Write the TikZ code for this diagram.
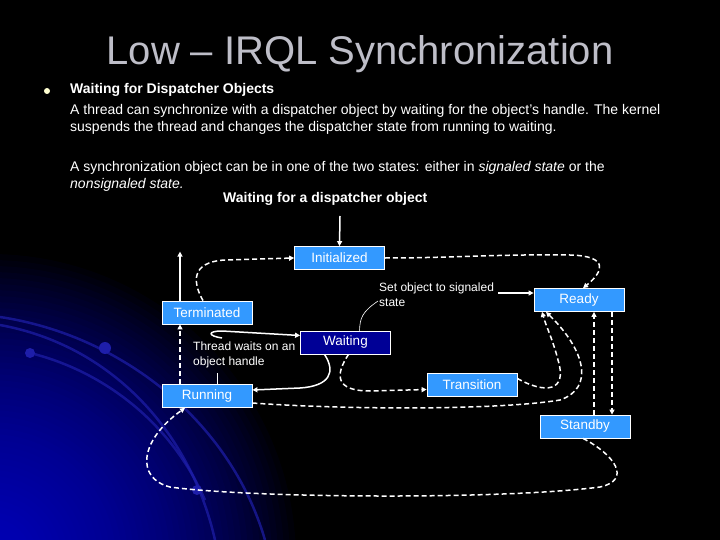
\documentclass[tikz,border=0pt]{standalone}
\usepackage{fontspec}
\setmainfont{Liberation Sans}
\usetikzlibrary{arrows.meta}
\definecolor{boxblue}{RGB}{51,153,255}
\definecolor{navybox}{RGB}{0,0,150}
\definecolor{titlegrey}{RGB}{190,190,200}
\definecolor{arcblue}{RGB}{30,30,170}
\definecolor{glowblue}{RGB}{0,0,230}
\definecolor{bulletcream}{RGB}{255,255,210}
\tikzset{
  statebox/.style={draw=white, line width=0.8pt, fill=boxblue, minimum width=90pt,
    minimum height=23pt, inner sep=0pt, text=white, font=\fontsize{13.5}{15}\selectfont},
  waitbox/.style={statebox, fill=navybox},
  conn/.style={draw=white, line width=1.5pt, -{Triangle[length=5pt,width=5pt]}},
  dconn/.style={conn, dash pattern=on 5pt off 3pt},
  leader/.style={draw=white, line width=0.6pt},
  lbl/.style={text=white, font=\fontsize{12}{14.5}\selectfont, align=left, inner sep=0pt},
  body/.style={text=white, font=\fontsize{14}{17}\selectfont, anchor=base west, inner sep=0pt},
  decoarc/.style={draw=arcblue, line width=2.5pt, opacity=0.7}
}
\begin{document}
\begin{tikzpicture}[x=1pt,y=-1pt]
\useasboundingbox (0,0) rectangle (720,540);
\fill[black] (0,0) rectangle (720,540);
\begin{scope}
  \clip (0,0) rectangle (720,540);
  \foreach \r in {6,12,...,310} {\fill[glowblue, opacity=0.036] (-10,560) circle (\r);}
  \draw[decoarc] (0,317) .. controls (120,335) and (230,420) .. (265,540);
  \draw[decoarc] (0,325) .. controls (110,345) and (190,430) .. (215,540);
  \draw[decoarc] (30,353) .. controls (100,370) and (170,420) .. (205,500);
  \fill[arcblue] (105,348) circle (6);
  \fill[arcblue] (30,353) circle (5);
  \fill[arcblue] (197,490) circle (5);
\end{scope}
% title
\node[anchor=base, text=titlegrey, font=\fontsize{40}{44}\selectfont, inner sep=0pt] (title) at (360,65) {Low -- IRQL Synchronization};
% bullet and text
\fill[bulletcream] (47,91) circle (3);
\node[body, font=\bfseries\fontsize{14}{17}\selectfont] (h1) at (70,94) {Waiting for Dispatcher Objects};
\node[body] (l1) at (70,115) {A thread can synchronize with a dispatcher object by waiting for the object's handle. The kernel};
\node[body] (l2) at (70,132) {suspends the thread and changes the dispatcher state from running to waiting.};
\node[body] (l3) at (70,172) {A synchronization object can be in one of the two states: either in \textit{signaled state} or the};
\node[body] (l4) at (70,189) {\textit{nonsignaled state.}};
\node[body, font=\bfseries\fontsize{14}{17}\selectfont] (cap) at (223,203) {Waiting for a dispatcher object};
% states
\node[statebox] (init) at (339.5,258) {Initialized};
\node[statebox] (term) at (207,312.5) {Terminated};
\node[waitbox] (wait) at (345.5,342.5) {Waiting};
\node[statebox] (run) at (207,396) {Running};
\node[statebox] (ready) at (579,300) {Ready};
\node[statebox] (trans) at (472,384.5) {Transition};
\node[statebox] (stby) at (585,426.5) {Standby};
% labels (anchor base = baseline of last line)
\node[lbl, anchor=base west] (setlbl) at (379,306) {Set object to signaled\\state};
\node[lbl, anchor=base west] (thrlbl) at (193,365) {Thread waits on an\\object handle};
% connectors (note: yshift is in page direction, positive = up)
\coordinate (topstart) at (340,216);
\draw[conn] (topstart) -- (init.north);
\draw[conn] ([xshift=-27pt]term.north) -- ++(0,-49);
\draw[dconn] ([xshift=-4pt]term.north) .. controls (193,283) and (190,262) .. (225,260) -- (init.west);
\draw[dconn] (init.east) .. controls (450,258) and (500,254) .. (570,255) .. controls (610,256) and (603,272) .. ([xshift=4pt]ready.north);
\coordinate (setstart) at (498,293);
\draw[conn] (setstart) -- (setstart -| ready.west);
\draw[leader] (378,301) .. controls (362,312) and (360,318) .. ([xshift=14pt]wait.north);
\draw[leader] ([xshift=10pt]run.north) -- ++(0,-11);
\draw[conn] (222,338) .. controls (208,336) and (207,331) .. (222,331) -- ([yshift=7pt]wait.west);
\draw[conn] ([xshift=-21pt]wait.south) .. controls (336,372) and (330,386) .. (300,388) -- ([yshift=6pt]run.east);
\draw[dconn] ([xshift=3pt]wait.south) .. controls (335,375) and (335,391) .. (370,391) -- ([yshift=-5pt]trans.west);
\draw[dconn] ([yshift=6pt]trans.east) .. controls (545,394) and (568,392) .. (558,360) .. controls (553,340) and (546,326) .. ([xshift=-37pt]ready.south);
\draw[dconn] ([yshift=-7pt]run.east) .. controls (350,410) and (500,410) .. (560,400) .. controls (595,388) and (585,350) .. ([xshift=-33pt]ready.south);
\draw[dconn] (stby.north -| 594,0) -- (ready.south -| 594,0);
\draw[dconn] (ready.south -| 612,0) -- (stby.north -| 612,0);
\draw[dconn] ([xshift=-2pt]stby.south) .. controls (615,455) and (632,480) .. (600,487) .. controls (500,500) and (250,498) .. (170,487) .. controls (135,478) and (140,440) .. ([xshift=-22pt]run.south);
\draw[dconn] ([xshift=-27pt]run.north) -- ([xshift=-27pt]term.south);
\end{tikzpicture}
\end{document}
